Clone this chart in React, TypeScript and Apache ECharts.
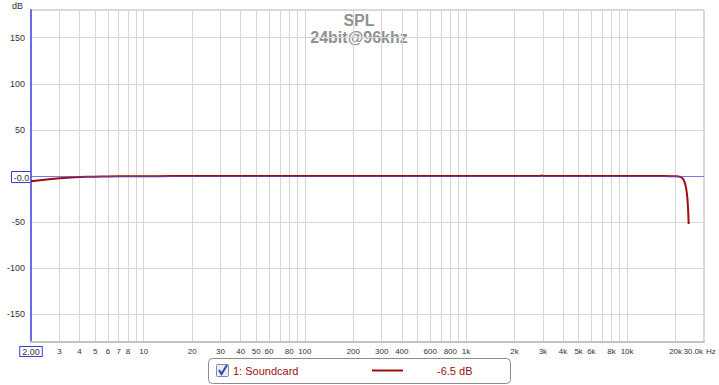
import React, { useEffect, useRef } from "react";
import * as echarts from "echarts";

// Measured response (Hz, dB)
const freqHz = [2, 2.5, 3, 3.5, 4, 5, 6, 8, 10, 15, 20, 50, 100, 1000, 2900, 2960, 3020, 10000, 15000, 19000, 20500, 21500, 22400, 23100, 23600, 23900, 24100];
const splDb = [-5.8, -3.9, -2.5, -1.7, -1.2, -0.7, -0.5, -0.3, -0.2, -0.1, -0.05, 0, 0, 0, 0, 0.6, 0, 0, -0.1, -0.2, -0.4, -1, -4, -11, -22, -36, -52];

// Axis tick definitions
const gridFreqs = [
  2, 3, 4, 5, 6, 7, 8, 9, 10, 20, 30, 40, 50, 60, 70, 80, 90, 100, 200, 300, 400, 500, 600, 700, 800, 900,
  1000, 2000, 3000, 4000, 5000, 6000, 7000, 8000, 9000, 10000, 20000,
];
const labelFreqs = [2, 3, 4, 5, 6, 7, 8, 10, 20, 30, 40, 50, 60, 80, 100, 200, 300, 400, 600, 800, 1000, 2000, 3000, 4000, 5000, 6000, 8000, 10000, 20000];
const labelTexts = ["2.00", "3", "4", "5", "6", "7", "8", "10", "20", "30", "40", "50", "60", "80", "100", "200", "300", "400", "600", "800", "1k", "2k", "3k", "4k", "5k", "6k", "8k", "10k", "20k"];
const yTicks = [-150, -100, -50, 0, 50, 100, 150];
const xMinHz = 2;
const xMaxHz = 30000;
const yMin = -180;
const yMax = 180;

const L = Math.log10;

export default function App() {
  const ref = useRef<HTMLDivElement>(null);
  useEffect(() => {
    const chart = echarts.init(ref.current!, null, { renderer: "svg" });
    const font = "Arial, 'Liberation Sans', sans-serif";
    chart.setOption({
      animation: false,
      backgroundColor: "#ffffff",
      textStyle: { fontFamily: font },
      grid: {
        left: 31,
        right: 15,
        top: 10,
        bottom: 43,
        show: true,
        borderColor: "#b4b4b4",
        borderWidth: 1,
        backgroundColor: "#fff",
      },
      xAxis: {
        type: "value",
        min: L(xMinHz),
        max: L(xMaxHz),
        axisLine: { show: true, onZero: false, lineStyle: { color: "#c4c4c4", width: 2 } },
        axisTick: { show: false, customValues: gridFreqs.map(L) },
        splitLine: { show: true, lineStyle: { color: "#d6d6d6", width: 1 } },
        axisLabel: {
          customValues: labelFreqs.map(L),
          color: "#333",
          fontSize: 8,
          fontFamily: font,
          margin: 5,
          hideOverlap: false,
          formatter: (v: number) => {
            const i = labelFreqs.findIndex((f) => Math.abs(L(f) - v) < 1e-6);
            if (i < 0) return "";
            if (i === 0) return "{box|" + labelTexts[0] + "}";
            return labelTexts[i];
          },
          rich: {
            box: {
              borderColor: "#3a3ae0",
              borderWidth: 1,
              padding: [0, 2, 0, 2],
              color: "#333",
              fontSize: 9,
              fontFamily: font,
              backgroundColor: "#fff",
            },
          },
        },
      },
      yAxis: {
        type: "value",
        min: yMin,
        max: yMax,
        axisLine: { show: true, lineStyle: { color: "#6a6ae6", width: 2 } },
        axisTick: { show: false, customValues: yTicks },
        splitLine: { show: true, lineStyle: { color: "#d6d6d6", width: 1 } },
        axisLabel: {
          customValues: yTicks,
          color: "#333",
          fontSize: 9,
          fontFamily: font,
          margin: 6,
          formatter: (v: number) => (v === 0 ? "" : String(v)),
        },
      },
      series: [
        {
          type: "line",
          data: freqHz.map((f, i) => [L(f), splDb[i]]),
          showSymbol: false,
          smooth: 0.3,
          lineStyle: { color: "#a00c0c", width: 2 },
          z: 3,
        },
        {
          type: "line",
          data: [],
          z: 4,
          markLine: {
            silent: true,
            symbol: "none",
            label: { show: false },
            lineStyle: { color: "#4a4af0", width: 1.2, type: "solid", opacity: 0.65 },
            data: [{ yAxis: 0 }],
          },
        },
      ],
      graphic: [
        {
          type: "text",
          left: 12,
          top: 1,
          style: { text: "dB", fontSize: 9, fill: "#333", fontFamily: font },
        },
        {
          type: "group",
          left: 11,
          top: 171,
          children: [
            { type: "rect", shape: { x: 0, y: 0, width: 20, height: 11 }, style: { fill: "#fff", stroke: "#3a3ae0", lineWidth: 1 } },
            { type: "text", x: 10, y: 6, style: { text: "-0.0", fontSize: 9, fill: "#333", align: "center", verticalAlign: "middle", fontFamily: font } },
          ],
        },
        {
          type: "text",
          x: 703,
          y: 351,
          style: { text: "30.0k", fontSize: 8, fill: "#333", align: "right", verticalAlign: "middle", fontFamily: font },
        },
        {
          type: "text",
          x: 706,
          y: 351,
          style: { text: "Hz", fontSize: 8, fill: "#333", align: "left", verticalAlign: "middle", fontFamily: font },
        },
        {
          type: "text",
          x: 359,
          y: 20,
          style: { text: "SPL", fontSize: 16, fontWeight: "bold", fill: "#909090", align: "center", verticalAlign: "middle", fontFamily: font },
        },
        {
          type: "text",
          x: 359,
          y: 37,
          style: { text: "24bit@96khz", fontSize: 16, fontWeight: "bold", fill: "#909090", align: "center", verticalAlign: "middle", fontFamily: font },
        },
        {
          type: "group",
          x: 208,
          y: 358,
          children: [
            { type: "rect", shape: { x: 0.5, y: 0.5, width: 302, height: 25, r: 4 }, style: { fill: "#fff", stroke: "#8c8c8c", lineWidth: 1 } },
            { type: "rect", shape: { x: 8.5, y: 6.5, width: 12, height: 12, r: 1 }, style: { fill: "#e8ecf4", stroke: "#7a8aa8", lineWidth: 1 } },
            { type: "polyline", shape: { points: [[11, 12], [13.5, 16], [19, 7]] }, style: { stroke: "#2a4aa8", lineWidth: 2, fill: "none" } },
            { type: "text", x: 25, y: 13, style: { text: "1: Soundcard", fontSize: 11, fill: "#9a1010", verticalAlign: "middle", fontFamily: font } },
            { type: "line", shape: { x1: 164, y1: 12.5, x2: 195, y2: 12.5 }, style: { stroke: "#a00c0c", lineWidth: 2 } },
            { type: "text", x: 229, y: 13, style: { text: "-6.5 dB", fontSize: 11, fill: "#9a1010", verticalAlign: "middle", fontFamily: font } },
          ],
        },
      ],
    });
    return () => chart.dispose();
  }, []);
  return <div ref={ref} style={{ position: "fixed", left: 0, top: 0, width: 719, height: 385 }} />;
}
